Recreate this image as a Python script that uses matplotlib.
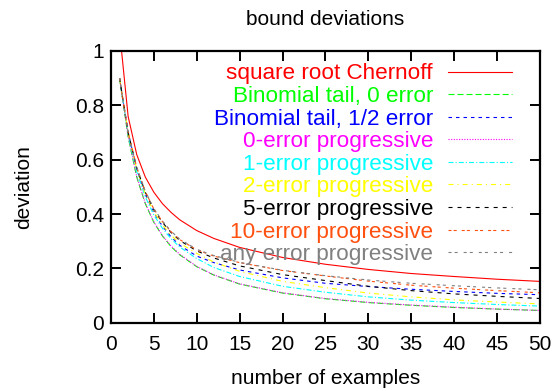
import matplotlib
matplotlib.use('Agg')
import matplotlib.pyplot as plt

m = [1, 2, 3, 4, 5, 6, 7, 8, 10, 12, 15, 20, 25, 30, 35, 40, 45, 50]

chernoff = [1.073, 0.759, 0.619, 0.536, 0.480, 0.438, 0.406, 0.379, 0.339, 0.310,
            0.277, 0.240, 0.215, 0.196, 0.181, 0.170, 0.160, 0.152]
binom_0 = [0.900, 0.684, 0.536, 0.438, 0.369, 0.319, 0.280, 0.250, 0.206, 0.175,
           0.142, 0.109, 0.088, 0.074, 0.064, 0.056, 0.050, 0.045]
binom_half = [0.900, 0.700, 0.565, 0.472, 0.405, 0.355, 0.316, 0.285, 0.245, 0.221,
              0.194, 0.165, 0.145, 0.133, 0.123, 0.115, 0.108, 0.103]
prog_0 = [0.900, 0.686, 0.538, 0.440, 0.371, 0.321, 0.282, 0.252, 0.207, 0.176,
          0.143, 0.110, 0.089, 0.075, 0.065, 0.057, 0.050, 0.045]
prog_1 = [0.900, 0.692, 0.556, 0.463, 0.396, 0.347, 0.309, 0.279, 0.236, 0.203,
          0.170, 0.134, 0.112, 0.095, 0.083, 0.074, 0.067, 0.061]
prog_2 = [0.900, 0.698, 0.565, 0.474, 0.408, 0.360, 0.322, 0.293, 0.255, 0.223,
          0.189, 0.152, 0.129, 0.109, 0.095, 0.084, 0.076, 0.069]
prog_5 = [0.900, 0.700, 0.570, 0.480, 0.416, 0.369, 0.332, 0.303, 0.264, 0.238,
          0.209, 0.177, 0.155, 0.134, 0.118, 0.106, 0.097, 0.089]
prog_10 = [0.900, 0.700, 0.572, 0.483, 0.418, 0.372, 0.335, 0.306, 0.268, 0.245,
           0.221, 0.192, 0.172, 0.153, 0.138, 0.127, 0.118, 0.110]
prog_any = [0.900, 0.700, 0.572, 0.484, 0.420, 0.374, 0.337, 0.308, 0.270, 0.247,
            0.222, 0.193, 0.173, 0.157, 0.145, 0.136, 0.128, 0.121]

labels = ['square root Chernoff', 'Binomial tail, 0 error', 'Binomial tail, 1/2 error',
          '0-error progressive', '1-error progressive', '2-error progressive',
          '5-error progressive', '10-error progressive', 'any error progressive']
xticks = [0, 5, 10, 15, 20, 25, 30, 35, 40, 45, 50]
yticks = [0, 0.2, 0.4, 0.6, 0.8, 1]
ytick_labels = ['0', '0.2', '0.4', '0.6', '0.8', '1']

series = [chernoff, binom_0, binom_half, prog_0, prog_1, prog_2, prog_5, prog_10, prog_any]
colors = ['#ff0000', '#00ff00', '#0000ff', '#ff00ff', '#00ffff', '#ffff00',
          '#000000', '#ff5010', '#808080']
# gnuplot-like dash patterns (in points, not scaled by line width)
styles = ['-', (0, (4.3, 2.2)), (0, (2.5, 2.9)), (0, (0.8, 1.1)),
          (0, (3.6, 1.5, 0.8, 1.5)), (0, (3.6, 2.9, 0.8, 2.9)),
          (0, (2.9, 3.6)), (0, (2.2, 1.5, 2.2, 3.6)), (0, (2.2, 2.2, 2.2, 4.3))]

plt.rcParams['font.family'] = ['Liberation Sans', 'DejaVu Sans']
plt.rcParams['lines.scale_dashes'] = False

fig = plt.figure(figsize=(5.56, 3.91), dpi=100)
ax = fig.add_axes([0.1996, 0.1747, 0.7716, 0.6949])

for ys, lab, col, ls in zip(series, labels, colors, styles):
    ax.plot(m, ys, color=col, linestyle=ls, linewidth=0.8, label=lab)

ax.set_xlim(0, 50)
ax.set_ylim(0, 1)
ax.set_xticks(xticks)
ax.set_xticklabels([str(t) for t in xticks])
ax.set_yticks(yticks)
ax.set_yticklabels(ytick_labels)
ax.tick_params(direction='in', length=7, width=1.4, top=True, right=True,
               labelsize=15, colors='black')
ax.tick_params(axis='x', pad=9)
ax.tick_params(axis='y', pad=5)
for sp in ax.spines.values():
    sp.set_linewidth(1.6)

ax.set_title('bound deviations', fontsize=15, pad=19)
ax.set_xlabel('number of examples', fontsize=15, labelpad=11)
ax.set_ylabel('deviation', fontsize=15, labelpad=30)

leg = ax.legend(loc='upper right', bbox_to_anchor=(0.971, 1.012), frameon=False,
                markerfirst=False, fontsize=16.2, handlelength=2.85,
                handletextpad=0.65, labelspacing=0.07, borderaxespad=0.3)
for txt, col in zip(leg.get_texts(), colors):
    txt.set_color(col)

fig.savefig('out.png', dpi=100)
